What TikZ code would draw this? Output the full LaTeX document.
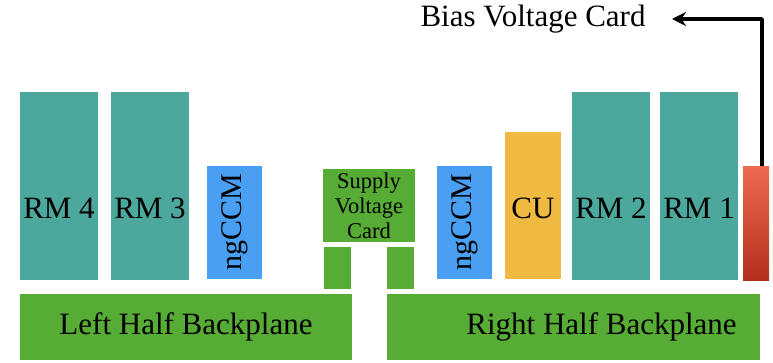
\documentclass[tikz,border=0pt]{standalone}
\usepackage{fontspec}
\setmainfont{Liberation Serif}
\usetikzlibrary{arrows.meta}
\definecolor{rmteal}{HTML}{4CA79C}
\definecolor{ccmblue}{HTML}{499FF2}
\definecolor{cuorange}{HTML}{F0B942}
\definecolor{bpgreen}{HTML}{57AC35}
\definecolor{biastop}{HTML}{EE6A52}
\definecolor{biasbot}{HTML}{B2301D}
\tikzset{
  card/.style={rectangle,fill=#1,inner sep=0pt,text=black},
  big/.style={font=\fontsize{31}{33}\selectfont},
  lowtext/.style={label={[big,yshift=-22pt]center:#1}},
}
\begin{document}
\begin{tikzpicture}[>=Stealth,line join=round,x=1pt,y=1pt]
	\useasboundingbox (0,0) rectangle (773,362);
	% modules (y counted up from the bottom edge)
	\node[card=rmteal,lowtext={RM 4},minimum width=78pt,minimum height=188pt] (rm4) at (59,176) {};
	\node[card=rmteal,lowtext={RM 3},minimum width=78pt,minimum height=188pt] (rm3) at (150,176) {};
	\node[card=ccmblue,font=\fontsize{30}{32}\selectfont,rotate=90,minimum width=113pt,minimum height=55pt] (ccml) at (234.5,139.5) {ngCCM};
	\node[card=bpgreen,align=center,font=\fontsize{22.5}{25}\selectfont,minimum width=92pt,minimum height=73pt] (svc) at (369,156.5) {Supply\\Voltage\\Card};
	\node[card=bpgreen,minimum width=27pt,minimum height=42pt] (conl) at (337.5,94) {};
	\node[card=bpgreen,minimum width=27pt,minimum height=42pt] (conr) at (400.5,94) {};
	\node[card=ccmblue,font=\fontsize{30}{32}\selectfont,rotate=90,minimum width=113pt,minimum height=55pt] (ccmr) at (464.5,139.5) {ngCCM};
	\node[card=cuorange,label={[big,yshift=-3pt]center:CU},minimum width=56pt,minimum height=147pt] (cu) at (533,156.5) {};
	\node[card=rmteal,lowtext={RM 2},minimum width=78pt,minimum height=188pt] (rm2) at (611,176) {};
	\node[card=rmteal,lowtext={RM 1},minimum width=78pt,minimum height=188pt] (rm1) at (699,176) {};
	\node[rectangle,inner sep=0pt,top color=biastop,bottom color=biasbot,minimum width=26pt,minimum height=114pt] (bias) at (756,139) {};
	% backplanes
	\node[card=bpgreen,big,minimum width=332pt,minimum height=66pt] (bpl) at (186,35) {Left Half Backplane};
	\node[card=bpgreen,label={[big,xshift=28pt]center:Right Half Backplane},minimum width=373pt,minimum height=66pt] (bpr) at (573.5,35) {};
	% label of the bias card
	\node[big,inner sep=0pt] (biaslbl) at (533,343) {Bias Voltage Card};
	\coordinate (tip) at (672,343);
	\draw[line width=3.5pt,-{Stealth[length=14pt,width=14pt]}] ([xshift=6pt]bias.north) |- (tip);
\end{tikzpicture}
\end{document}
